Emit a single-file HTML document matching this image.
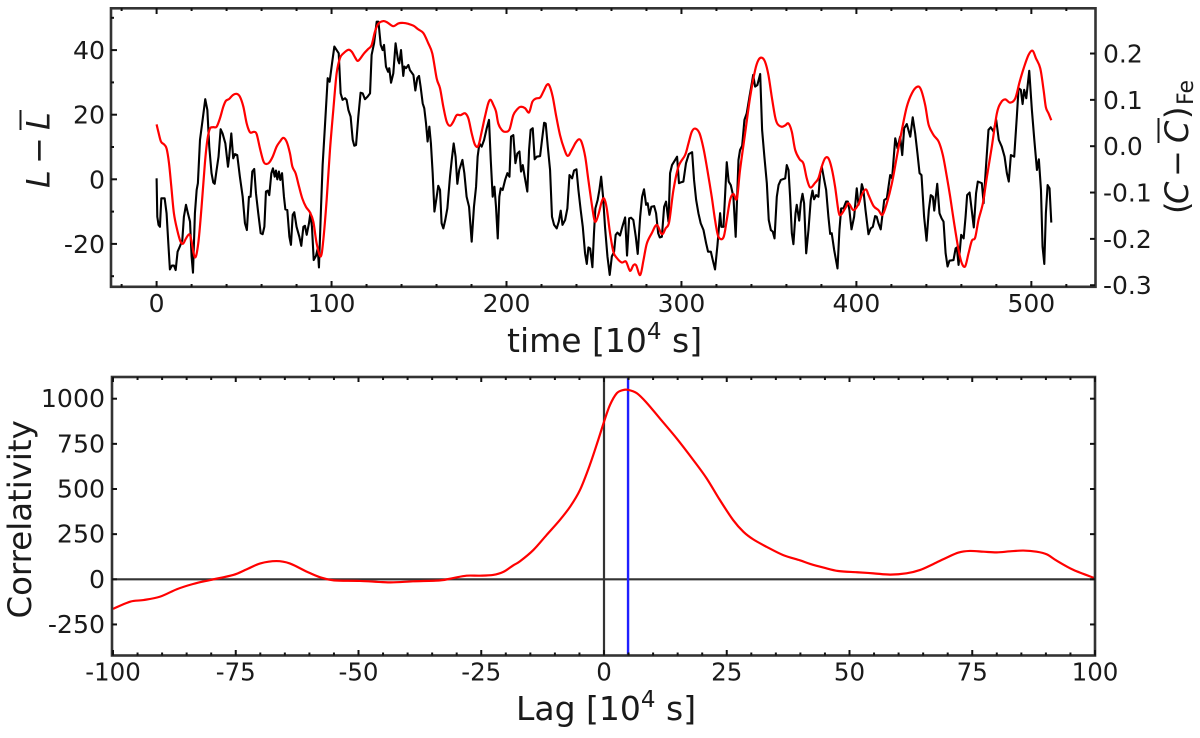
<!DOCTYPE html>
<html lang="en">
<head>
<meta charset="utf-8">
<title>Light curve and correlation</title>
<style>
html,body{margin:0;padding:0;background:#fff;width:1200px;height:738px;overflow:hidden}
svg{display:block;filter:blur(0.35px)}
text{font-family:"DejaVu Sans","Liberation Sans",sans-serif;fill:#1a1a1a}
</style>
</head>
<body>
<svg id="chart" xmlns="http://www.w3.org/2000/svg" width="1200" height="738" viewBox="0 0 1200 738">
  <rect x="0" y="0" width="1200" height="738" fill="#fff"/>
  <g id="top-marks"></g>
  <g id="bottom-marks"></g>
  <rect x="111" y="8.3" width="984.5" height="278.5" fill="none" stroke="#333" stroke-width="2.6"/>
  <rect x="112" y="377" width="983" height="278.5" fill="none" stroke="#333" stroke-width="2.6"/>
  <g id="axes"></g>

  <text x="507" y="352" font-size="33">time [10<tspan font-size="23" dy="-13">4</tspan><tspan dy="13"> s]</tspan></text>
  <text x="516" y="720" font-size="33">Lag [10<tspan font-size="23" dy="-13">4</tspan><tspan dy="13"> s]</tspan></text>
  <text transform="translate(31,618.5) rotate(-90)" font-size="32.4">Correlativity</text>

  <g>
    <text transform="translate(49.5,188) rotate(-90)" font-size="32" font-style="italic">L</text>
    <text transform="translate(49.5,164) rotate(-90)" font-size="32">−</text>
    <text transform="translate(49.5,130) rotate(-90)" font-size="32" font-style="italic">L</text>
    <line x1="20.5" y1="110" x2="20.5" y2="130" stroke="#1a1a1a" stroke-width="2"/>
  </g>
  <g>
    <text transform="translate(1188,214) rotate(-90)" font-size="32">(</text>
    <text transform="translate(1188,204) rotate(-90)" font-size="32" font-style="italic">C</text>
    <text transform="translate(1188,177) rotate(-90)" font-size="32">−</text>
    <text transform="translate(1188,143) rotate(-90)" font-size="32" font-style="italic">C</text>
    <line x1="1158.5" y1="118" x2="1158.5" y2="143" stroke="#1a1a1a" stroke-width="2"/>
    <text transform="translate(1188,119) rotate(-90)" font-size="32">)</text>
    <text transform="translate(1193,105) rotate(-90)" font-size="22">Fe</text>
  </g>
</svg>
<script>
const blackTime=[0,0.4,1.1,1.9,2.7,4.6,5.7,6.7,7.6,8.8,9.9,10.9,12,13.3,14.7,15.6,16.8,17.9,19.1,20,20.8,21.9,22.9,23.6,24.8,26.3,27.8,29,30.1,31.4,32.4,33.2,34.3,35.4,36.6,37.7,39.3,40.8,41.5,42.7,43.8,44.8,46.1,47.6,49.2,50.5,51.6,52.8,53.7,54.7,55.8,56.8,58.1,59.5,60.6,61.6,62.5,63.5,64.4,65.6,66.5,67.5,68.2,69,69.9,70.7,71.7,72.8,73.6,74.7,75.9,76.8,77.8,78.7,80,81.6,82.7,83.9,84.8,85.8,87.1,87.9,88.8,89.8,91.1,92.1,92.8,94,94.9,96.2,97.8,98.9,100.4,101.6,102.9,104.1,105.2,106.3,107.7,108.6,109.6,110.9,112.1,113,114,115.3,116.6,117.8,119.1,120.6,122,122.9,124.3,125.8,126.8,128.1,129.2,130,131.1,132.3,133,134,135.3,136.6,138,138.7,139.7,141,141.6,142.6,143.9,144.8,146.8,147.9,149,150,150.9,152.1,153,154,154.9,155.9,156.8,157.8,158.8,160.1,161,162,162.9,163.9,165,166.2,167.7,168.7,169.8,170.9,171.9,173,174.8,175.9,177.2,178.6,180.1,181.4,182.6,183.5,184.5,185.8,187.2,188.7,190,191,192.1,193.1,194,195,195.9,196.7,197.8,199.2,200.5,201.7,202.6,203.9,205.1,206.2,207.4,208.3,209.3,210.4,211.9,212.9,213.8,215,216.1,217.3,219.2,220.3,221.5,222.4,223.6,224.9,226,227.2,228.7,229.9,231,232,233.5,234.8,236,237.5,238.6,240,241.1,242.4,243.6,244.9,245.9,246.8,247.8,249.1,250,250.8,252.1,253.1,254.1,255.2,256.3,257.7,259,260.2,261.5,262.4,263.4,264.9,266.2,267.8,268.9,270.1,271.2,272.5,273.9,275,276.4,277.5,278.6,279.8,280.7,281.7,282.8,284.4,285.5,286.7,287.6,288.8,290.1,291.2,292.6,293.5,294.6,296.4,297.5,298.6,299.9,301.1,302.6,304.2,306.1,307.2,308.4,309.7,311,312.6,314.1,315.2,316.8,317.9,319.2,320.6,322.1,322.8,324,324.9,325.9,327,328.2,329.7,331,332.6,333.5,334.7,336,337.3,338.9,340.2,341,342.1,343.4,345,346.1,347.4,348.8,349.9,351.1,352.2,353.2,354.5,355.5,356.8,358.3,359.3,360.2,361.2,362.1,363.1,364,365.2,365.9,367.3,368.2,369.2,370.1,371.3,372.6,373.9,374.9,375.8,377,378.3,379.3,380.2,381.6,382.7,384,385,385.9,387.3,389.2,390.3,391.3,392.6,394.1,395.1,396,397.2,398.7,400.2,401.2,402.1,403.1,404,405.2,406.9,408.2,409.4,410.7,411.6,412.6,413.9,415.9,417.4,419.3,420.4,422.2,423.5,425,426.2,427.3,428.8,430.8,432.2,433.6,434.9,436.1,437.2,438.7,440.1,441.4,442.5,443.7,444.5,446.2,447.5,448.7,449.8,451,452.1,453.2,455.5,456.7,457.4,458.4,459.9,461.3,462.4,463.3,464.7,465.8,467.1,468.4,469.4,471.7,472.7,474.2,475.5,476.8,478.4,479.9,481.4,483.1,484.7,486,487.1,488.3,490.2,491.7,492.7,494,495,495.9,497.1,498.8,500.3,501.7,503.2,504.3,505.5,506.4,507.4,508.3,509.3,510.4,511.4];
const blackLuminosity=[0.3,-11.6,-14.1,-14.7,-5.9,-5.9,-10.5,-19.8,-27.9,-26.7,-26.7,-28.1,-22.4,-20.8,-18.8,-11.6,-7.9,-10.5,-13.1,-23.9,-28.9,-10.5,-3.3,-1.2,12.2,18.4,24.8,21.5,10.1,1.9,-1,-1.4,2.9,7,15.5,14.2,11.1,3.9,7,14.2,6.5,7.8,7.5,0.8,-5.4,-13.6,-15.7,-5.4,-5.4,2.4,3.2,-4.3,-10.5,-16.7,-17,-14.7,-3.8,-3.5,-4.9,1.9,3.4,0.8,2.7,0,2.4,-0.2,1.9,-5.4,-9.3,-9.5,-17.8,-20.3,-11,-10.2,-14.7,-17.8,-20.6,-14.7,-14.4,-17.2,-13.6,-10.5,-14.7,-25,-23.7,-21.4,-27.3,-8.5,4.4,16.3,31.3,30.2,36.4,41.1,40,39,26.6,24.6,25.1,24.6,21.5,19.4,12.2,10.4,10.6,19.4,26.8,26.6,24.8,25.6,26.6,38.5,42.1,48.8,48.8,41.6,40,41.6,34.9,33.3,34.4,29.9,32.8,42.1,36.9,35.9,40,32,34.9,34.4,35.4,33.8,32.3,27.5,31.3,32,28.7,23.5,22,17.3,11.7,16.3,11.1,1.9,-10,-5.4,-2,-3.3,-13.6,-15.2,-12.6,-9,0.8,6,11.1,7,-1.4,2.9,6,1.9,-5.4,-8.5,-19.3,-8.5,-2.3,7,11.1,10.1,12.2,15.8,18.4,6,-5.4,-2.3,-8.5,-18.3,-5.4,-2.8,-3.3,-0.2,1.9,0.8,13.2,13.7,5,8,8.6,2.4,4.4,0.8,-3.8,9.1,15.3,15.8,6.2,7,7.2,12.2,17.5,17.3,10.1,2.9,-11.6,-14.1,-15.2,-13.1,-9.7,-14.1,-12.6,-9,1.3,0.3,2.7,3.1,-3.3,-9.5,-14.7,-22.9,-26.2,-21.1,-21.4,-27.2,-16.7,-9,-6.4,-3.3,0.8,-5.4,-14.7,-23.9,-29.6,-23.9,-22.4,-17.2,-16.5,-17.4,-14.7,-11.8,-23.6,-12.1,-11.9,-12.6,-17.8,-23.1,-11.6,-5.4,-3.1,-7.9,-7.4,-11,-8.5,-8.3,-10.5,-16.7,-18,-17.8,-8.5,-6.9,-13.1,1.9,4.4,6,7,-1.2,-0.9,-0.7,5,7.8,8.4,-0.2,-6.4,-10.5,-13.6,-15.7,-19.8,-22.4,-22.4,-25,-27.9,-20.3,-10.5,-14.7,-14.7,-5.4,5.3,-0.7,-1.8,-5.4,-17.8,6,9.1,10.4,18.4,20.4,25.6,29.7,32.3,28.7,29.2,32.6,15.3,7,-1.2,-12.6,-15.7,-16.2,-18.3,-5.4,-1.8,-0.2,0.1,0.3,4.4,2.9,-5.4,-16.7,-20.1,-10.5,-7.9,-12.8,-7.4,-4.5,-7.4,-22.9,-15.7,-6.4,-3.5,-6.2,-4.9,-5.4,1.9,3.9,-0.2,-3.3,-11.6,-16.9,-16.7,-21.9,-27.6,-15.7,-9,-9,-6.9,-6.9,-9.5,-15.5,-11.6,-2.8,-7.9,-6.4,-1.5,-3.3,-9.5,-17,-15.2,-14.7,-11.4,-11.6,-13.6,-15.5,-6.4,-5.9,1.3,0.3,12.7,9.6,13.2,7.5,15.8,17.1,13.2,19.2,14.2,8,1.9,1.3,-11.6,-19,-9.5,-4.9,-5.4,-9.7,-1.4,-10.5,-12.1,-13.1,-22.9,-27,-25.2,-25,-21.4,-21.1,-26.5,-17.2,-18.3,-11.6,-4.9,-4.1,-9,-14.9,-4.3,-0.7,-1.2,-7.4,5,15.3,16.1,14.8,18.4,12.2,10.1,7,1.9,-0.7,7.5,7,19.4,28.2,27.7,23.3,27.7,25.1,33.6,21.5,12.2,2.9,6.2,-3.3,-20.8,-26.2,-10.5,-1.8,-2.8,-13.4];
const redTime=[0,1,2.5,4.2,5.7,7.1,8.4,9.9,11.8,13.7,15.2,16.8,18.7,19.8,21.9,23.8,25.7,27.6,29,30.5,32.4,34.3,36.2,38.1,39.6,41.5,43.5,45.7,47.6,49.6,51.5,53.4,55.7,57.2,59.1,61,62.3,64.2,66.3,68.6,70.5,72.4,74.3,76.2,77.6,79.5,81.4,83.3,85.4,87.7,89.6,91.5,93.8,95.3,97.2,99.1,101,102.9,104.8,106.7,109.6,111.5,113.4,114.9,116.6,118.5,121,122.9,124.8,126.7,129.6,131.9,135.3,138.2,141,143.9,146.8,149.6,152.5,155.3,157.6,160.1,162,163.9,165.8,167.7,169.6,171.5,173.8,176.3,178.2,180.1,182,183.9,185.8,187.7,189.6,191,192.5,194,195.3,197.3,199.2,201.7,203.9,206.2,208.1,210.6,212.9,214.8,216.9,219.2,221.1,223,224.5,226.4,228.3,230.6,232.9,235,237.3,239.6,241.5,243,245,246.8,249.1,250.6,252.5,254.4,255.8,257.3,259.2,261.1,263,265.9,268.3,270.6,272.5,274.1,276.4,278.3,280.2,283,285.9,288.8,291,293,295.4,298.3,302.1,304,305.9,307.8,310.3,312.6,314.8,317.3,319.2,321.1,324,325.9,327.8,329.7,331.7,333.5,336.4,339.3,342.1,344,345.9,347.8,349.7,351.6,353.5,354.9,357.3,359.3,361.2,363.1,365,367.5,369.7,371.6,373.6,376.4,378.3,380.2,382.1,384,385.9,387.8,389.8,391.1,393.6,395.5,398.3,401.2,403.1,405.4,406.9,409.8,412.6,414.9,417.4,420.3,423.1,426,428.8,431.7,434.6,436.8,439.3,441.3,444.1,447,449.4,451.7,453.6,455.9,458.4,460.3,462.2,464.1,466,467.9,469.8,472.3,474.6,477.4,480.3,482.6,485.1,487.9,490.8,493.3,495.6,498.4,500.7,502.6,505.1,507,508.3,509.8,511.4];
const redColor=[0.047,0.031,0.01,0.004,-0.005,-0.037,-0.087,-0.145,-0.181,-0.206,-0.21,-0.199,-0.19,-0.202,-0.24,-0.21,-0.131,-0.037,0.013,0.038,0.041,0.042,0.06,0.085,0.098,0.102,0.11,0.113,0.107,0.085,0.049,0.03,0.031,0.026,-0.005,-0.032,-0.038,-0.036,-0.023,-0.001,0.01,0.018,0.01,-0.015,-0.044,-0.059,-0.087,-0.113,-0.131,-0.143,-0.163,-0.21,-0.238,-0.202,-0.116,-0.008,0.078,0.157,0.19,0.2,0.208,0.204,0.192,0.184,0.19,0.2,0.21,0.218,0.247,0.264,0.27,0.267,0.259,0.265,0.266,0.264,0.26,0.252,0.244,0.222,0.2,0.146,0.125,0.085,0.053,0.044,0.053,0.067,0.067,0.071,0.06,0.028,0.003,0.001,0.031,0.064,0.093,0.1,0.089,0.075,0.049,0.035,0.031,0.036,0.067,0.08,0.085,0.082,0.073,0.096,0.103,0.105,0.118,0.132,0.131,0.107,0.067,0.024,-0.005,-0.021,-0.008,0.008,0.015,0.008,-0.023,-0.073,-0.134,-0.163,-0.148,-0.12,-0.113,-0.134,-0.188,-0.228,-0.241,-0.251,-0.249,-0.269,-0.257,-0.257,-0.278,-0.246,-0.21,-0.188,-0.17,-0.19,-0.177,-0.163,-0.095,-0.044,-0.019,0.006,0.031,0.038,0.028,-0.005,-0.051,-0.109,-0.159,-0.195,-0.197,-0.159,-0.116,-0.103,-0.113,-0.051,0.028,0.107,0.164,0.186,0.191,0.182,0.154,0.107,0.064,0.048,0.042,0.045,0.049,0.031,-0.008,-0.028,-0.037,-0.069,-0.089,-0.079,-0.069,-0.044,-0.026,-0.026,-0.048,-0.087,-0.141,-0.148,-0.134,-0.123,-0.138,-0.125,-0.105,-0.093,-0.105,-0.129,-0.138,-0.148,-0.123,-0.08,-0.023,0.035,0.085,0.114,0.128,0.123,0.089,0.046,0.024,0.01,-0.019,-0.066,-0.109,-0.167,-0.224,-0.253,-0.259,-0.231,-0.204,-0.197,-0.159,-0.123,-0.066,-0.001,0.071,0.094,0.101,0.094,0.103,0.139,0.168,0.197,0.206,0.19,0.168,0.121,0.084,0.071,0.056];
const lagValues=[-100,-96.5,-93.8,-90.4,-87,-83.7,-80.2,-75.5,-72.8,-70,-66.7,-64,-60.5,-57.8,-55,-49.7,-43.6,-38.9,-33.4,-30.7,-28,-25.3,-22.6,-20.5,-18.5,-17.1,-14.4,-11.7,-9,-6.9,-4.9,-2.9,-1.2,0,1.2,2.6,3.9,4.9,6.7,8.7,11.4,14.8,18.2,20.9,23.6,26.3,28.4,30.4,33.1,36.5,39.9,42,44.7,47.7,51.5,54.9,58.3,61.6,64.4,67.1,69.8,72.2,74.5,77.3,80,82.7,85.4,88.1,90.2,92.2,95.6,100];
const correlativity=[-164,-124,-115,-96,-55,-26,-4,24,55,88,101,88,42,11,-6,-9,-17,-11,-6,7,20,20,24,41,77,100,162,245,328,402,494,632,770,872,964,1030,1048,1049,1030,977,890,780,660,559,439,328,263,221,180,134,105,85,65,46,39,33,26,33,52,85,120,148,157,153,149,155,159,153,138,103,52,6];
const peakLag=[4.9];
const zeroLag=[0];
const zeroCorrelation=[0];

const topXTicks=[0,100,200,300,400,500];
const topXMinor=[-20,20,40,60,80,120,140,160,180,220,240,260,280,320,340,360,380,420,440,460,480,520];
const topLeftTicks=[-20,0,20,40];
const topLeftMinor=[-30,-10,10,30,50];
const topRightTicks=[-0.3,-0.2,-0.1,0,0.1,0.2];
const topRightLabels=['-0.3','-0.2','-0.1','0.0','0.1','0.2'];
const botXTicks=[-100,-75,-50,-25,0,25,50,75,100];
const botXMinor=[-95,-90,-85,-80,-70,-65,-60,-55,-45,-40,-35,-30,-20,-15,-10,-5,5,10,15,20,30,35,40,45,55,60,65,70,80,85,90,95];
const botYTicks=[-250,0,250,500,750,1000];

const NS='http://www.w3.org/2000/svg';
const xTop=t=>156.6+1.7495*t;
const yLeft=v=>179.3-3.23*v;
const yRight=v=>146.2-463.4*v;
const xBot=v=>604+4.91*v;
const yBot=v=>579.3-0.1806*v;

const topMarks=document.getElementById('top-marks');
const bottomMarks=document.getElementById('bottom-marks');
const axes=document.getElementById('axes');

function polyPath(xs,ys){
  let d='';
  for(let i=0;i<xs.length;i++){d+=(i?'L':'M')+xs[i].toFixed(2)+' '+ys[i].toFixed(2);}
  return d;
}
function smoothPath(xs,ys){
  let d='M'+xs[0].toFixed(2)+' '+ys[0].toFixed(2);
  for(let i=0;i<xs.length-1;i++){
    const a=Math.max(i-1,0),b=Math.min(i+2,xs.length-1);
    const c1x=xs[i]+(xs[i+1]-xs[a])/6,c1y=ys[i]+(ys[i+1]-ys[a])/6;
    const c2x=xs[i+1]-(xs[b]-xs[i])/6,c2y=ys[i+1]-(ys[b]-ys[i])/6;
    d+='C'+c1x.toFixed(2)+' '+c1y.toFixed(2)+' '+c2x.toFixed(2)+' '+c2y.toFixed(2)+' '+xs[i+1].toFixed(2)+' '+ys[i+1].toFixed(2);
  }
  return d;
}
function drawPath(parent,d,color,width){
  const el=document.createElementNS(NS,'path');
  el.setAttribute('d',d);
  el.setAttribute('fill','none');
  el.setAttribute('stroke',color);
  el.setAttribute('stroke-width',width);
  el.setAttribute('stroke-linejoin','round');
  parent.appendChild(el);
  return el;
}
function drawLine(parent,x1,y1,x2,y2,color,width){
  const el=document.createElementNS(NS,'line');
  el.setAttribute('x1',x1);
  el.setAttribute('y1',y1);
  el.setAttribute('x2',x2);
  el.setAttribute('y2',y2);
  el.setAttribute('stroke',color);
  el.setAttribute('stroke-width',width);
  parent.appendChild(el);
  return el;
}
function drawLabel(x,y,str,anchor,size){
  const el=document.createElementNS(NS,'text');
  el.setAttribute('x',x);
  el.setAttribute('y',y);
  el.setAttribute('text-anchor',anchor);
  el.setAttribute('font-size',size);
  el.textContent=str;
  axes.appendChild(el);
  return el;
}

/* reference lines, bottom panel */
zeroCorrelation.forEach(v=>{
  const el=drawLine(bottomMarks,112,yBot(v),1095,yBot(v),'#333',2.2);
  
  
});
zeroLag.forEach(v=>{
  const el=drawLine(bottomMarks,xBot(v),377,xBot(v),655.5,'#333',2.2);
  
  
});
peakLag.forEach(v=>{
  const el=drawLine(bottomMarks,xBot(v),377,xBot(v),655.5,'#1f1fff',2.4);
  
  
});

/* series */
const blackLine=drawPath(topMarks,polyPath(blackTime.map(xTop),blackLuminosity.map(yLeft)),'#000',2.1);


const redLine=drawPath(topMarks,smoothPath(redTime.map(xTop),redColor.map(yRight)),'#f00',2.2);


const corrLine=drawPath(bottomMarks,smoothPath(lagValues.map(xBot),correlativity.map(yBot)),'#f00',2.2);



/* top panel ticks */
topXTicks.forEach(v=>{
  const x=xTop(v);
  const a=drawLine(axes,x,287,x,281,'#111',2);
  
  
  const b=drawLine(axes,x,8,x,14,'#111',2);
  
  
  const t=drawLabel(x,312,String(v),'middle',25);
  
  
});
topXMinor.forEach(v=>{
  const x=xTop(v);
  const a=drawLine(axes,x,287,x,284,'#111',2);
  
  
  const b=drawLine(axes,x,8,x,11,'#111',2);
  
  
});
topLeftTicks.forEach(v=>{
  const y=yLeft(v);
  const a=drawLine(axes,111,y,117,y,'#111',2);
  
  
  const t=drawLabel(105,y+9,String(v),'end',25.2);
  
  
});
topLeftMinor.forEach(v=>{
  const y=yLeft(v);
  const a=drawLine(axes,111,y,114,y,'#111',2);
  
  
});
topRightTicks.forEach((v,i)=>{
  const y=yRight(v);
  const a=drawLine(axes,1095,y,1090,y,'#111',2);
  
  
  const t=drawLabel(1103,y+9,topRightLabels[i],'start',25);
  
  
});

/* bottom panel ticks */
botXTicks.forEach(v=>{
  const x=xBot(v);
  const a=drawLine(axes,x,655.5,x,650,'#111',2);
  
  
  const b=drawLine(axes,x,377,x,382,'#111',2);
  
  
  const t=drawLabel(x,680.5,String(v),'middle',24.5);
  
  
});
botXMinor.forEach(v=>{
  const x=xBot(v);
  const a=drawLine(axes,x,655.5,x,652.5,'#111',2);
  
  
  const b=drawLine(axes,x,377,x,380,'#111',2);
  
  
});
botYTicks.forEach(v=>{
  const y=yBot(v);
  const a=drawLine(axes,112,y,117,y,'#111',2);
  
  
  const b=drawLine(axes,1095,y,1090,y,'#111',2);
  
  
  const t=drawLabel(105,y+8.5,String(v),'end',25.2);
  
  
});
</script>
</body>
</html>
